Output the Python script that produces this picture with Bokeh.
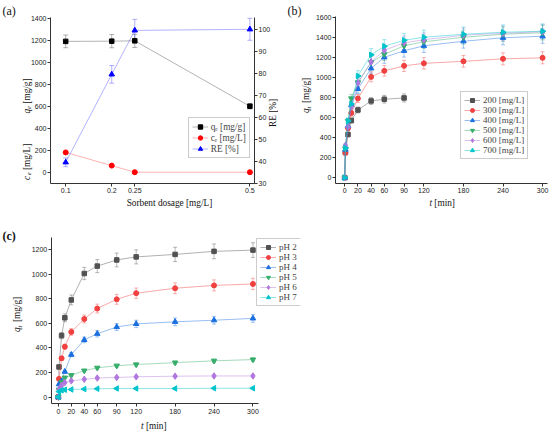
from math import pi
from bokeh.plotting import figure
from bokeh.models import (Range1d, LinearAxis, FixedTicker, Label, Legend, LegendItem,
                          ColumnDataSource, Whisker, TeeHead)
from bokeh.layouts import column, row
from bokeh.embed import file_html
from bokeh.resources import INLINE

# ---------------- data: panel (a) ----------------
dosage = [0.1, 0.2, 0.25, 0.5]
dosage_ticks = [0.1, 0.2, 0.25, 0.5]
qe = [1190, 1192, 1195, 600]
qe_err = [58, 60, 60, 25]
ce = [180, 60, 0, 0]
ce_err = [0, 0, 0, 0]
re_pct = [39.5, 79.5, 99.5, 100]
re_err = [2, 4, 5, 5]
qe_ticks = [0, 200, 400, 600, 800, 1000, 1200, 1400]
re_ticks = [30, 40, 50, 60, 70, 80, 90, 100]

# ---------------- data: panel (b) ----------------
t_all = [0, 1, 5, 10, 20, 40, 60, 90, 120, 180, 240, 300]
t_200 = [0, 1, 5, 10, 20, 40, 60, 90]
q_200 = [0, 250, 430, 570, 675, 765, 782, 795]
e_200 = [0, 10, 20, 25, 30, 35, 38, 40]
q_300 = [0, 248, 495, 645, 790, 1005, 1065, 1115, 1140, 1160, 1185, 1195]
e_300 = [0, 12, 25, 32, 40, 50, 53, 56, 57, 58, 60, 60]
q_400 = [0, 280, 515, 725, 885, 1090, 1200, 1265, 1315, 1360, 1395, 1410]
e_400 = [0, 14, 26, 36, 44, 55, 60, 63, 66, 68, 70, 70]
q_500 = [0, 290, 565, 790, 950, 1150, 1230, 1315, 1355, 1400, 1430, 1445]
e_500 = [0, 15, 28, 40, 48, 58, 62, 66, 68, 70, 72, 72]
q_600 = [0, 323, 505, 710, 945, 1155, 1270, 1345, 1375, 1420, 1440, 1455]
e_600 = [0, 16, 25, 36, 47, 58, 64, 67, 69, 71, 72, 73]
q_700 = [0, 295, 565, 735, 1015, 1225, 1310, 1370, 1400, 1430, 1450, 1460]
e_700 = [0, 15, 28, 37, 51, 61, 66, 69, 70, 72, 73, 73]
conc_labels = ["200 [mg/L]", "300 [mg/L]", "400 [mg/L]", "500 [mg/L]", "600 [mg/L]", "700 [mg/L]"]
qb_ticks = [0, 200, 400, 600, 800, 1000, 1200, 1400, 1600]

# ---------------- data: panel (c) ----------------
q_ph2 = [0, 245, 500, 645, 790, 1005, 1065, 1115, 1140, 1160, 1185, 1195]
e_ph2 = [0, 12, 25, 32, 40, 50, 53, 56, 57, 58, 60, 60]
q_ph3 = [0, 148, 315, 410, 530, 635, 720, 795, 845, 885, 908, 920]
e_ph3 = [0, 8, 16, 20, 27, 32, 36, 40, 42, 44, 45, 46]
q_ph4 = [0, 105, 130, 207, 345, 465, 515, 570, 595, 612, 625, 640]
e_ph4 = [0, 5, 7, 10, 17, 23, 26, 28, 30, 31, 31, 32]
q_ph5 = [0, 60, 122, 158, 178, 215, 238, 255, 265, 280, 295, 305]
e_ph5 = [0, 3, 6, 8, 9, 11, 12, 13, 13, 14, 15, 15]
q_ph6 = [0, 62, 95, 118, 132, 145, 155, 160, 165, 170, 172, 172]
e_ph6 = [0, 3, 5, 6, 7, 7, 8, 8, 8, 9, 9, 9]
q_ph7 = [0, 45, 55, 60, 62, 65, 68, 70, 70, 70, 72, 72]
e_ph7 = [0, 2, 3, 3, 3, 3, 3, 4, 4, 4, 4, 4]
ph_labels = ["pH 2", "pH 3", "pH 4", "pH 5", "pH 6", "pH 7"]
qc_ticks = [0, 200, 400, 600, 800, 1000, 1200]

time_ticks = [0, 20, 40, 60, 90, 120, 180, 240, 300]

COLORS = ["#515151", "#F14040", "#1A6FDF", "#37AD6B", "#B177DE", "#00C4CC"]
AX = "#333333"
SERIF = "Liberation Serif"
SANS = "Liberation Sans"
TS = "9.3px"
MSIZE = {"square": 4.5, "circle": 5, "triangle": 5.5, "inverted_triangle": 5.5,
         "diamond": 6.5}


def ext_range(d0, d1, p0, p1, size):
    """Range whose value d0 sits at pixel p0 and d1 at pixel p1 of a frame of `size` px."""
    k = (d1 - d0) / (p1 - p0)
    return Range1d(d0 - p0 * k, d0 + (size - p0) * k)


def make_fig(w, h, xr, yr):
    p = figure(width=w, height=h, x_range=xr, y_range=yr, output_backend="svg",
               toolbar_location=None, min_border=0, min_border_left=0,
               min_border_right=0, min_border_top=0, min_border_bottom=0)
    p.outline_line_color = None
    p.grid.visible = False
    p.background_fill_color = "white"
    p.border_fill_color = "white"
    return p


def style_axis(ax, ticks, loc, bounds):
    ax.ticker = FixedTicker(ticks=ticks)
    ax.fixed_location = loc
    ax.bounds = bounds
    ax.axis_line_color = AX
    ax.major_tick_line_color = AX
    ax.minor_tick_line_color = None
    ax.major_tick_out = 3
    ax.major_tick_in = 0
    ax.major_label_standoff = 1
    ax.major_label_text_font = SANS
    ax.major_label_text_font_size = "7px"
    ax.major_label_text_color = "#222222"
    ax.axis_label = None


def lab(p, H, cx, cy, text, size=TS, style="normal", align="center",
        baseline="middle", angle=0.0):
    p.add_layout(Label(x=cx, y=H - cy, x_units="screen", y_units="screen", text=text,
                       text_font=SERIF, text_font_size=size, text_font_style=style,
                       text_align=align, text_baseline=baseline, angle=angle,
                       text_color="#111111"))


def vtitle(p, H, cx, cy, main, sub, rest, total):
    """vertical title (reads bottom to top): italic letter, italic subscript, rest."""
    b = cy + total / 2.0
    lab(p, H, cx, b, main, style="italic", align="left", angle=pi / 2)
    lab(p, H, cx + 2.5, b - 4.6, sub, size="6.5px", style="italic", align="left",
        angle=pi / 2)
    lab(p, H, cx, b - 9.9, rest, align="left", angle=pi / 2)


def htitle(p, H, cx, cy, ital, rest, total, w_ital):
    s = cx - total / 2.0 + w_ital
    lab(p, H, s, cy, ital, style="italic", align="right")
    lab(p, H, s + 2.3, cy, rest, align="left")


def series(p, x, y, err, color, marker, angle=0.0, yname="default",
           line_alpha=0.45, err_alpha=0.4, cap=4):
    src = ColumnDataSource(dict(x=x, y=y,
                                lo=[a - b for a, b in zip(y, err)],
                                hi=[a + b for a, b in zip(y, err)]))
    if cap > 0:
        w = Whisker(source=src, base="x", lower="lo", upper="hi", dimension="height",
                    line_color=color, line_alpha=err_alpha, line_width=1,
                    upper_head=TeeHead(size=cap, line_color=color, line_alpha=err_alpha),
                    lower_head=TeeHead(size=cap, line_color=color, line_alpha=err_alpha),
                    y_range_name=yname)
        p.add_layout(w)
    lr = p.line("x", "y", source=src, line_color=color, line_alpha=line_alpha,
                line_width=1, y_range_name=yname)
    sr = p.scatter("x", "y", source=src, marker=marker, size=MSIZE[marker], angle=angle,
                   fill_color=color, line_color=color, y_range_name=yname)
    return lr, sr


def make_legend(items, x, y, size="9px"):
    return Legend(items=items, location=(x, y), label_text_font=SERIF,
                  label_text_font_size=size, glyph_width=16, glyph_height=10,
                  label_height=10, spacing=0, padding=3, margin=0,
                  border_line_color="#999999", border_line_width=1,
                  label_standoff=3, background_fill_alpha=1.0)


# ================= panel (a) =================
WA, HA = 278, 215
pa = make_fig(WA, HA, ext_range(0.067, 0.51, 50, 254, WA),
              ext_range(-100, 1410, HA - 182.7, HA - 16.7, HA))
pa.extra_y_ranges = {"re": ext_range(30, 105.5, HA - 182.7, HA - 16.7, HA)}
pa.add_layout(LinearAxis(y_range_name="re"), "right")
style_axis(pa.xaxis[0], dosage_ticks, -100, (0.067, 0.51))
pa.xaxis[0].major_label_standoff = 2
pa.xaxis[0].major_label_overrides = {v: str(v) for v in dosage_ticks}
style_axis(pa.yaxis[0], qe_ticks, 0.067, (-100, 1410))
style_axis(pa.yaxis[1], re_ticks, 0.51, (30, 105.5))

ra = []
ra.append(series(pa, dosage, qe, qe_err, "#000000", "square", cap=5,
                 line_alpha=0.3, err_alpha=0.3))
ra.append(series(pa, dosage, ce, ce_err, "#FF0000", "circle", cap=0,
                 line_alpha=0.3))
ra.append(series(pa, dosage, re_pct, re_err, "#0000FF", "triangle", cap=5,
                 yname="re", line_alpha=0.3, err_alpha=0.3))
leg_a = make_legend([LegendItem(label="qₑ [mg/g]", renderers=list(ra[0])),
                     LegendItem(label="cₑ [mg/L]", renderers=list(ra[1])),
                     LegendItem(label="RE [%]", renderers=list(ra[2]))],
                    187.7, HA - 158.3, size="9.3px")
leg_a.label_height = 11
leg_a.glyph_height = 11
pa.add_layout(leg_a)

vtitle(pa, HA, 26, 96, "q", "e", "[mg/g]", 34.2)
vtitle(pa, HA, 26, 162, "c", "e", "[mg/L]", 34.8)
lab(pa, HA, 272, 112.5, "RE [%]", angle=pi / 2)
lab(pa, HA, 169, 202, "Sorbent dosage [mg/L]")
lab(pa, HA, 2, 3, "(a)", size="12px", align="left", baseline="top")

# ================= panel (b) =================
OXB = 278
WB, HB = 272, 215
pb = make_fig(WB, HB, ext_range(-14, 307, 335 - OXB, 546.7 - OXB, WB),
              ext_range(-55, 1607, HB - 182.7, HB - 16, HB))
style_axis(pb.xaxis[0], time_ticks, -55, (-14, 307))
pb.xaxis[0].major_label_standoff = 2
style_axis(pb.yaxis[0], qb_ticks, -14, (-55, 1607))

b_data = [(t_200, q_200, e_200, "square", 0.0), (t_all, q_300, e_300, "circle", 0.0),
          (t_all, q_400, e_400, "triangle", 0.0),
          (t_all, q_500, e_500, "inverted_triangle", 0.0),
          (t_all, q_600, e_600, "diamond", 0.0),
          (t_all, q_700, e_700, "triangle", -pi / 2)]
rb = []
for i, (tx, qy, ee, mk, an) in enumerate(b_data):
    rb.append(series(pb, tx, qy, ee, COLORS[i], mk, angle=an, cap=4))
leg_b = make_legend([LegendItem(label=conc_labels[i], renderers=list(rb[i]))
                     for i in range(6)], 460 - OXB, HB - 159.3)
pb.add_layout(leg_b)

vtitle(pb, HB, 305 - OXB, 96, "q", "t", "[mg/g]", 33.0)
htitle(pb, HB, 441.7 - OXB, 202.3, "t", "[min]", 25.6, 2.6)
lab(pb, HB, 287 - OXB, 3, "(b)", size="12px", align="left", baseline="top")

# ================= panel (c) =================
OYC = 215
WC, HC = 300, 217
pc = make_fig(WC, HC, ext_range(-11, 309, 50.7, 258.3, WC),
              ext_range(-52, 1300, HC - (403 - OYC), HC - (236.7 - OYC), HC))
style_axis(pc.xaxis[0], time_ticks, -52, (-11, 309))
pc.xaxis[0].major_label_standoff = 2
style_axis(pc.yaxis[0], qc_ticks, -11, (-52, 1300))

c_data = [(q_ph2, e_ph2, "square", 0.0), (q_ph3, e_ph3, "circle", 0.0),
          (q_ph4, e_ph4, "triangle", 0.0), (q_ph5, e_ph5, "inverted_triangle", 0.0),
          (q_ph6, e_ph6, "diamond", 0.0), (q_ph7, e_ph7, "triangle", pi / 2)]
rc = []
for i, (qy, ee, mk, an) in enumerate(c_data):
    rc.append(series(pc, t_all, qy, ee, COLORS[i], mk, angle=an, cap=4))
leg_c = make_legend([LegendItem(label=ph_labels[i], renderers=list(rc[i]))
                     for i in range(6)], 256, HC - (306 - OYC))
pc.add_layout(leg_c)

vtitle(pc, HC, 16, 315 - OYC, "q", "t", "[mg/g]", 33.0)
htitle(pc, HC, 153.3, 425 - OYC, "t", "[min]", 25.6, 2.6)
lab(pc, HC, 2, 228 - OYC, "(c)", size="12px", style="bold", align="left",
    baseline="top")

layout = column(row(pa, pb), pc)
open("out.html", "w").write(file_html(layout, INLINE))
